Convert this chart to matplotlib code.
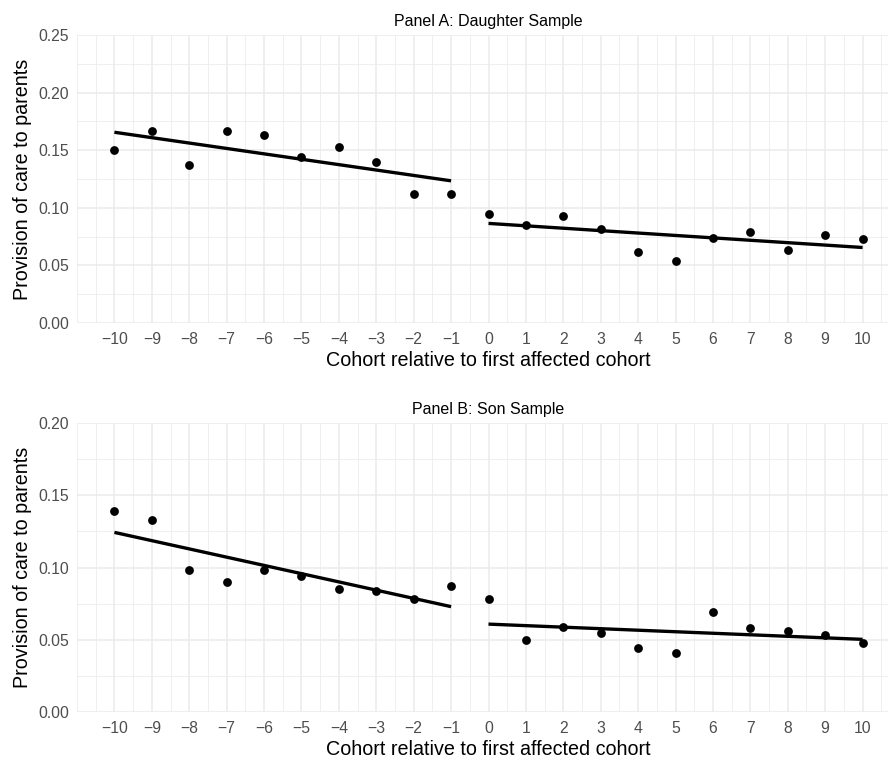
import numpy as np
import matplotlib
matplotlib.use('Agg')
import matplotlib.pyplot as plt
from matplotlib.ticker import MultipleLocator, FixedLocator, FormatStrFormatter

plt.rcParams['font.family'] = ['Liberation Sans', 'DejaVu Sans']

# cohort relative to first affected cohort
cohort = [-10, -9, -8, -7, -6, -5, -4, -3, -2, -1,
          0, 1, 2, 3, 4, 5, 6, 7, 8, 9, 10]

# share providing care to parents
daughter = [0.150, 0.167, 0.137, 0.167, 0.163, 0.144, 0.153, 0.140, 0.112, 0.112,
            0.095, 0.085, 0.093, 0.082, 0.062, 0.054, 0.074, 0.079, 0.063, 0.076, 0.073]
son = [0.139, 0.133, 0.098, 0.090, 0.098, 0.094, 0.085, 0.084, 0.078, 0.087,
       0.078, 0.050, 0.059, 0.055, 0.044, 0.041, 0.069, 0.058, 0.056, 0.053, 0.048]

panels = [('Panel A: Daughter Sample', daughter, 0.25),
          ('Panel B: Son Sample', son, 0.20)]

W, H = 888, 759
fig = plt.figure(figsize=(W / 100, H / 100), dpi=100)

# panel boxes in pixels: left, right, top, bottom
boxes = [(77, 900, 35, 323), (77, 900, 423, 712)]

grid_col = '#ebebeb'
text_col = '#4d4d4d'

for (title, vals, ymax), (l, r, t, b) in zip(panels, boxes):
    ax = fig.add_axes([l / W, 1 - b / H, (r - l) / W, (b - t) / H])
    x = np.array(cohort)
    y = np.array(vals)

    ax.scatter(x, y, s=40, color='black', zorder=3, linewidths=0)

    # separate linear fits before and after the cutoff
    for mask in (x < 0, x >= 0):
        coef = np.polyfit(x[mask], y[mask], 1)
        xs = np.array([x[mask].min(), x[mask].max()])
        ax.plot(xs, np.polyval(coef, xs), color='black', lw=2.4,
                solid_capstyle='butt', zorder=2)

    ax.set_xlim(-11, 11)
    ax.set_ylim(0, ymax)
    ax.xaxis.set_major_locator(FixedLocator(cohort))
    ax.xaxis.set_minor_locator(FixedLocator(np.arange(-11, 11.01, 0.5)))
    ax.yaxis.set_major_locator(MultipleLocator(0.05))
    ax.yaxis.set_minor_locator(MultipleLocator(0.025))
    ax.yaxis.set_major_formatter(FormatStrFormatter('%.2f'))
    ax.grid(which='major', color=grid_col, lw=1.1, zorder=0)
    ax.grid(which='minor', color=grid_col, lw=0.55, zorder=0)
    ax.set_axisbelow(True)
    for s in ax.spines.values():
        s.set_visible(False)
    ax.tick_params(which='both', length=0)
    ax.tick_params(axis='y', pad=5.5, labelsize=11.3, labelcolor=text_col)
    ax.tick_params(axis='x', pad=6.5, labelsize=11.3, labelcolor=text_col)

    ax.set_ylabel('Provision of care to parents', fontsize=14.2, labelpad=5)
    ax.set_xlabel('Cohort relative to first affected cohort', fontsize=14.2, labelpad=3)
    ax.set_title(title, fontsize=11.5, pad=6.5)

fig.savefig('out.png', dpi=100)
